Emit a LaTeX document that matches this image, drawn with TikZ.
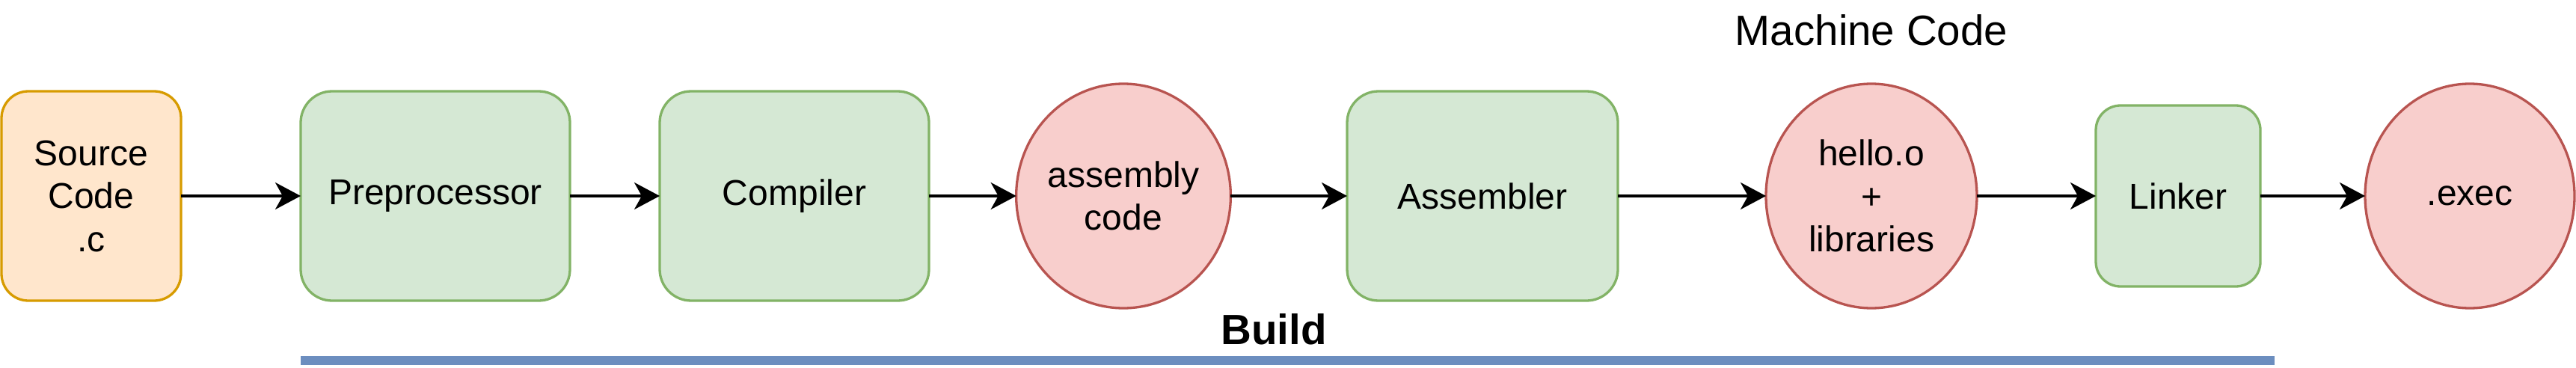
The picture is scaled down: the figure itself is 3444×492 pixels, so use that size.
\documentclass[tikz,border=0pt]{standalone}
\usepackage{fontspec}
\setmainfont{Liberation Sans}
\usetikzlibrary{shapes.geometric,arrows.meta}
\definecolor{orangefill}{HTML}{FFE6CC}
\definecolor{orangeline}{HTML}{D79B00}
\definecolor{greenfill}{HTML}{D5E8D4}
\definecolor{greenline}{HTML}{82B366}
\definecolor{redfill}{HTML}{F8CECC}
\definecolor{redline}{HTML}{B85450}
\definecolor{barblue}{HTML}{6C8EBF}
\tikzset{
  lbl/.style={font=\fontsize{48}{57.5}\selectfont, align=center, line width=3.3pt, outer sep=0pt, inner sep=0pt},
  srcbox/.style={lbl, draw=orangeline, fill=orangefill, rounded corners=36pt, minimum width=240pt, minimum height=280pt},
  procbox/.style={lbl, draw=greenline, fill=greenfill, rounded corners=42pt, minimum width=360pt, minimum height=280pt},
  linkbox/.style={lbl, draw=greenline, fill=greenfill, rounded corners=33pt, minimum width=220pt, minimum height=242pt},
  filenode/.style={lbl, ellipse, draw=redline, fill=redfill, minimum width=282pt, minimum height=300pt},
  flow/.style={-{Stealth[length=34pt,width=36pt,inset=10pt]}, line width=3.3pt},
}
\begin{document}
\begin{tikzpicture}[x=1pt,y=-1pt]
\useasboundingbox (0,0) rectangle (3444,492);
\node[srcbox] (src) at (122,262) {Source\\Code\\.c};
\node[procbox] (pre) at (582,262) {Preprocessor};
\node[procbox] (comp) at (1062,262) {Compiler};
\node[filenode] (asmc) at (1502,262) {assembly\\code};
\node[procbox, minimum width=362pt] (asmb) at (1982,262) {Assembler};
\node[filenode] (obj) at (2502,262) {hello.o\\+\\libraries};
\node[linkbox] (link) at (2912,262) {Linker};
\node[filenode, minimum width=280pt] (exec) at (3302,262) {.exec};
\node[font=\fontsize{56.5}{66}\selectfont, anchor=base, inner sep=0pt] (mc) at (2502,60.7) {Machine Code};
\node[fill=barblue, minimum width=2639pt, minimum height=12pt, inner sep=0pt, outer sep=0pt] (bar) at (1721.5,482) {};
\node[font=\bfseries\fontsize{56.5}{66}\selectfont, anchor=base, inner sep=0pt] (build) at (1703,460) {Build};
\draw[flow] (src.east) -- (pre.west);
\draw[flow] (pre.east) -- (comp.west);
\draw[flow] (comp.east) -- (asmc.west);
\draw[flow] (asmc.east) -- (asmb.west);
\draw[flow] (asmb.east) -- (obj.west);
\draw[flow] (obj.east) -- (link.west);
\draw[flow] (link.east) -- (exec.west);
\end{tikzpicture}
\end{document}
